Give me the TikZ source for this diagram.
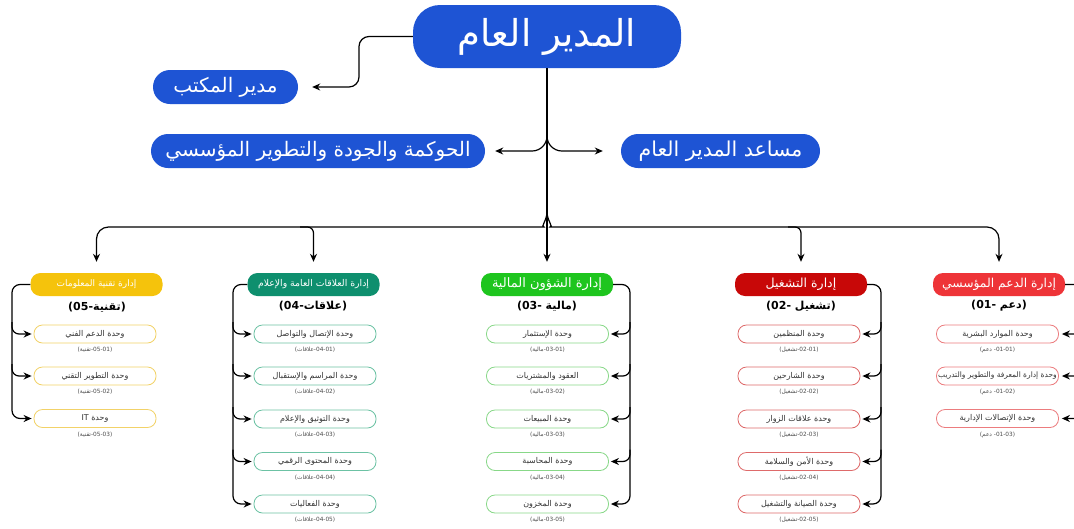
\documentclass[tikz,border=0pt]{standalone}
\usepackage{fontspec}
\usetikzlibrary{arrows.meta,calc}
\TeXXeTstate=1
\newfontfamily\arf[Script=Arabic]{DejaVu Sans}
\newfontfamily\lat{DejaVu Sans}
\newcommand\AR[1]{{\arf\beginR #1\endR}}
\newcommand\LT[1]{{\lat #1}}
\definecolor{cblue}{HTML}{1E54D4}
\definecolor{cyel}{HTML}{F5C30C}
\definecolor{cteal}{HTML}{0E8F6E}
\definecolor{cgreen}{HTML}{1EC51E}
\definecolor{cdred}{HTML}{C80808}
\definecolor{cred}{HTML}{EE3438}
\definecolor{lyel}{HTML}{F2D268}
\definecolor{lteal}{HTML}{6CC2A4}
\definecolor{lgreen}{HTML}{88D888}
\definecolor{ldred}{HTML}{DE6A6A}
\definecolor{lred}{HTML}{EC7C7E}
\tikzset{
  conn/.style={line width=1.2pt, black},
  arr/.style={conn, -{Stealth[length=8pt,width=7pt]}},
  bigbox/.style={fill=cblue, text=white, inner sep=0pt, rounded corners=17pt, minimum height=34pt},
  headbox/.style={fill=#1, text=white, inner sep=0pt, rounded corners=10pt, minimum width=132pt, minimum height=23pt, font=\fontsize{12.5}{14}\selectfont},
  subtitle/.style={inner sep=0pt, font=\bfseries\fontsize{11}{13}\selectfont},
  unitbox/.style={draw=#1, line width=0.8pt, fill=white, inner sep=1pt, rounded corners=8.5pt, minimum width=122pt, minimum height=18pt, text=black!80, font=\fontsize{8}{9}\selectfont},
  codetext/.style={inner sep=0pt, text=black!70, font=\fontsize{5.8}{7}\selectfont}
}
% unit box with its code label: name, x, y, colour, text, arabic code word, numbers
\newcommand\orgunit[7]{%
  \node[unitbox=#4] (#1) at (#2,#3) {#5};
  \node[codetext] (#1c) at (#2,#3-16) {\LT{(}\AR{#6}\LT{#7)}};
}
\begin{document}
\begin{tikzpicture}[x=1pt,y=1pt]
\useasboundingbox (0,0) rectangle (1074,-528);
\clip (0,0) rectangle (1074,-528);
\fill[white] (0,0) rectangle (1074,-528);

% top level
\node[bigbox, rounded corners=27pt, minimum width=268pt, minimum height=63pt, font=\fontsize{37}{42}\selectfont] (top) at (547,-36.5) {\AR{المدير العام}};
\node[bigbox, minimum width=145pt, font=\fontsize{20}{24}\selectfont] (office) at (225.5,-87) {\AR{مدير المكتب}};
\node[bigbox, minimum width=334pt, font=\fontsize{20}{24}\selectfont] (gov) at (318,-151) {\AR{الحوكمة والجودة والتطوير المؤسسي}};
\node[bigbox, minimum width=199pt, font=\fontsize{20.5}{24}\selectfont] (asst) at (720.5,-151) {\AR{مساعد المدير العام}};

\coordinate (k1) at (359,-87);
\draw[arr, rounded corners=10pt] (top.west) -| (k1) -- ([xshift=14pt]office.east);
\coordinate (sp1) at (547,-136);
\draw[arr] (sp1) to[out=-90,in=0] (532,-151) -- ([xshift=10pt]gov.east);
\draw[arr] (sp1) to[out=-90,in=180] (562,-151) -- ([xshift=-18pt]asst.west);

% headers
\node[headbox=cyel, font=\fontsize{9}{11}\selectfont] (h1) at (96.5,-284.5) {\AR{إدارة تقنية المعلومات}};
\node[headbox=cteal, font=\fontsize{9.3}{11}\selectfont] (h2) at (313.5,-284.5) {\AR{إدارة العلاقات العامة والإعلام}};
\node[headbox=cgreen, font=\fontsize{13}{15}\selectfont] (h3) at (547,-284.5) {\AR{إدارة الشؤون المالية}};
\node[headbox=cdred] (h4) at (801,-284.5) {\AR{إدارة التشغيل}};
\node[headbox=cred, font=\fontsize{12.3}{14}\selectfont] (h5) at (999,-284.5) {\AR{إدارة الدعم المؤسسي}};

% bus
\draw[arr] (top.south) -- ([yshift=11pt]h3.north);
\coordinate (sp2) at (547,-212);
\draw[arr, rounded corners=12pt] (sp2) to[out=-90,in=0] (532,-227) -| ([yshift=11pt]h1.north);
\draw[arr, rounded corners=12pt] (sp2) to[out=-90,in=180] (562,-227) -| ([yshift=11pt]h5.north);
\draw[arr, rounded corners=6pt] (300,-227) -| ([yshift=11pt]h2.north);
\draw[arr, rounded corners=6pt] (788,-227) -| ([yshift=11pt]h4.north);

% subtitles
\node[subtitle] (s1) at (97,-307) {\LT{(05-}\AR{\bfseries تقنية}\LT{)}};
\node[subtitle] (s2) at (313,-306) {\LT{(04-}\AR{\bfseries علاقات}\LT{)}};
\node[subtitle] (s3) at (547,-306) {\LT{(03- }\AR{\bfseries مالية}\LT{)}};
\node[subtitle] (s4) at (801,-306) {\LT{(02- }\AR{\bfseries تشغيل}\LT{)}};
\node[subtitle] (s5) at (999,-306) {\LT{(01- }\AR{\bfseries دعم}\LT{)}};

% column 1
\orgunit{u11}{95}{-334}{lyel}{\AR{وحدة الدعم الفني}}{تقنية}{-05-01}
\orgunit{u12}{95}{-376}{lyel}{\AR{وحدة التطوير التقني}}{تقنية}{-05-02}
\orgunit{u13}{95}{-418.5}{lyel}{\AR{وحدة \beginL\LT{IT}\endL}}{تقنية}{-05-03}
% column 2
\orgunit{u21}{315}{-334}{lteal}{\AR{وحدة الإتصال والتواصل}}{علاقات}{-04-01}
\orgunit{u22}{315}{-376}{lteal}{\AR{وحدة المراسم والإستقبال}}{علاقات}{-04-02}
\orgunit{u23}{315}{-419}{lteal}{\AR{وحدة التوثيق والإعلام}}{علاقات}{-04-03}
\orgunit{u24}{315}{-461.5}{lteal}{\AR{وحدة المحتوى الرقمي}}{علاقات}{-04-04}
\orgunit{u25}{315}{-504}{lteal}{\AR{وحدة الفعاليات}}{علاقات}{-04-05}
% column 3
\orgunit{u31}{547.5}{-334}{lgreen}{\AR{وحدة الإستثمار}}{مالية}{-03-01}
\orgunit{u32}{547.5}{-376}{lgreen}{\AR{العقود والمشتريات}}{مالية}{-03-02}
\orgunit{u33}{547.5}{-419}{lgreen}{\AR{وحدة المبيعات}}{مالية}{-03-03}
\orgunit{u34}{547.5}{-461.5}{lgreen}{\AR{وحدة المحاسبة}}{مالية}{-03-04}
\orgunit{u35}{547.5}{-504}{lgreen}{\AR{وحدة المخزون}}{مالية}{-03-05}
% column 4
\orgunit{u41}{799}{-334}{ldred}{\AR{وحدة المنظمين}}{تشغيل}{-02-01}
\orgunit{u42}{799}{-376}{ldred}{\AR{وحدة الشارحين}}{تشغيل}{-02-02}
\orgunit{u43}{799}{-419}{ldred}{\AR{وحدة علاقات الزوار}}{تشغيل}{-02-03}
\orgunit{u44}{799}{-461.5}{ldred}{\AR{وحدة الأمن والسلامة}}{تشغيل}{-02-04}
\orgunit{u45}{799}{-504}{ldred}{\AR{وحدة الصيانة والتشغيل}}{تشغيل}{-02-05}
% column 5
\orgunit{u51}{997.5}{-334}{lred}{\AR{وحدة الموارد البشرية}}{دعم}{ -01-01}
\orgunit{u52}{997.5}{-376}{lred}{\fontsize{7.5}{9}\selectfont\AR{وحدة إدارة المعرفة والتطوير والتدريب}}{دعم}{ -01-02}
\orgunit{u53}{997.5}{-418.5}{lred}{\AR{وحدة الإتصالات الإدارية}}{دعم}{ -01-03}

% brackets
\coordinate (v1) at (12,-284.5);
\coordinate (v2) at (233,-284.5);
\coordinate (v3) at (630,-284.5);
\coordinate (v4) at (881,-284.5);
\coordinate (v5) at (1082,-284.5);
\draw[arr, rounded corners=8pt] (h1.west) -- (v1) |- ([xshift=-2pt]u13.west);
\foreach \i in {1,2}{\draw[arr, rounded corners=7pt] ($(v1 |- u1\i.west)+(0,12)$) |- ([xshift=-2pt]u1\i.west);}
\draw[arr, rounded corners=8pt] (h2.west) -- (v2) |- ([xshift=-2pt]u25.west);
\foreach \i in {1,...,4}{\draw[arr, rounded corners=7pt] ($(v2 |- u2\i.west)+(0,12)$) |- ([xshift=-2pt]u2\i.west);}
\draw[arr, rounded corners=8pt] (h3.east) -- (v3) |- ([xshift=2pt]u35.east);
\foreach \i in {1,...,4}{\draw[arr, rounded corners=7pt] ($(v3 |- u3\i.east)+(0,12)$) |- ([xshift=2pt]u3\i.east);}
\draw[arr, rounded corners=8pt] (h4.east) -- (v4) |- ([xshift=2pt]u45.east);
\foreach \i in {1,...,4}{\draw[arr, rounded corners=7pt] ($(v4 |- u4\i.east)+(0,12)$) |- ([xshift=2pt]u4\i.east);}
\draw[arr, rounded corners=8pt] (h5.east) -- (v5) |- ([xshift=3pt]u53.east);
\foreach \i in {1,2}{\draw[arr, rounded corners=7pt] ($(v5 |- u5\i.east)+(0,12)$) |- ([xshift=3pt]u5\i.east);}
\end{tikzpicture}
\end{document}
